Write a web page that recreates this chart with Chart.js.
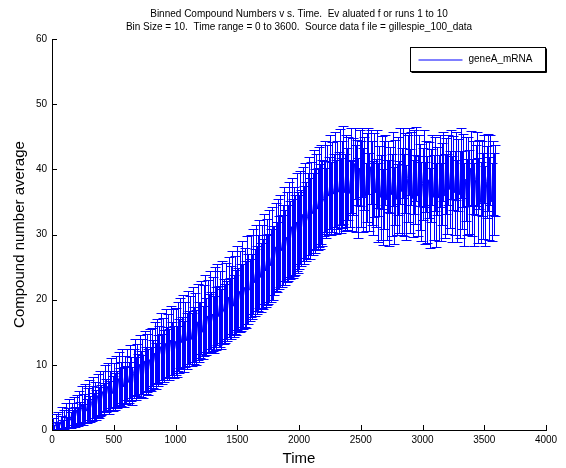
<!DOCTYPE html>
<html>
<head>
<meta charset="utf-8">
<script src="https://cdn.jsdelivr.net/npm/chart.js@4/dist/chart.umd.min.js"></script>
<style>
  html, body { margin: 0; padding: 0; background: #fff; }
  #wrap { width: 566px; height: 468px; }
</style>
</head>
<body>
<div id="wrap"><canvas id="binChart"></canvas></div>
<script>
// binned averages of geneA_mRNA, one value per 10 s bin
const binSize = 10;
const seriesName = "geneA_mRNA";
const titleLines = [
  "Binned Compound Numbers v s. Time.  Ev aluated f or runs 1 to 10",
  "Bin Size = 10.  Time range = 0 to 3600.  Source data f ile = gillespie_100_data"
];
const xTicks = [0, 500, 1000, 1500, 2000, 2500, 3000, 3500, 4000];
const yTicks = [0, 10, 20, 30, 40, 50, 60];

const meanValues = [
  0.3, 0.9, 0.2, 1.2, 0.6, 1.4, 0.5, 1.1, 1.9, 0.8, 1.6, 2.2, 1.0, 1.8, 2.6, 1.5, 2.3, 1.7, 2.9, 2.0,
  3.1, 2.0, 3.5, 2.6, 3.9, 2.4, 3.3, 4.2, 2.9, 3.8, 4.6, 3.2, 4.1, 5.0, 3.6, 4.4, 3.8, 5.3, 4.2, 5.6,
  4.6, 5.9, 4.8, 6.4, 5.3, 6.7, 5.0, 6.1, 7.2, 5.6, 6.8, 5.9, 7.5, 6.2, 7.9, 6.5, 7.1, 8.3, 6.6, 7.7,
  6.9, 8.5, 7.3, 9.0, 7.8, 6.8, 8.7, 9.6, 7.9, 9.2, 8.3, 10.1, 8.6, 9.7, 8.2, 10.6, 9.1, 10.3, 8.9, 10.8,
  9.4, 11.2, 10.1, 11.8, 9.8, 12.1, 10.7, 11.5, 12.8, 10.9, 12.4, 11.3, 13.3, 11.7, 12.9, 11.6, 13.8, 12.3, 13.5, 12.0,
  13.6, 12.1, 14.3, 12.9, 14.9, 13.4, 15.2, 12.8, 14.6, 13.7, 15.8, 14.0, 15.4, 13.9, 16.2, 14.5, 15.7, 14.2, 16.6, 15.1,
  15.4, 17.2, 15.0, 16.8, 17.9, 15.9, 17.5, 16.3, 18.4, 16.6, 17.8, 16.2, 18.9, 17.1, 19.3, 17.4, 18.6, 17.0, 19.6, 18.2,
  17.9, 19.8, 18.3, 20.4, 18.7, 19.5, 21.1, 19.0, 20.7, 19.6, 21.8, 19.9, 21.3, 20.3, 22.4, 20.5, 21.9, 20.8, 23.0, 21.6,
  21.5, 23.6, 22.0, 24.3, 22.6, 24.8, 23.0, 24.1, 25.5, 23.4, 25.1, 23.9, 26.2, 24.4, 25.8, 24.7, 26.7, 25.2, 27.1, 25.6,
  26.0, 28.1, 26.5, 28.6, 27.2, 29.0, 27.5, 28.4, 30.1, 28.0, 29.6, 28.7, 30.8, 29.1, 31.2, 29.4, 30.5, 29.9, 31.9, 30.3,
  30.4, 32.6, 31.0, 33.1, 31.5, 33.7, 32.0, 32.8, 34.4, 32.5, 34.0, 33.2, 35.3, 33.6, 35.0, 33.9, 35.8, 34.3, 36.2, 34.9,
  35.5, 37.4, 34.8, 36.9, 35.9, 38.0, 35.6, 37.3, 36.2, 38.5, 35.8, 37.6, 36.5, 38.8, 36.0, 37.7, 39.1, 36.4, 38.2, 37.0,
  38.6, 36.3, 39.8, 35.9, 38.9, 40.9, 37.1, 39.5, 35.6, 40.2, 37.7, 41.1, 36.8, 39.4, 35.8, 38.7, 41.3, 36.5, 40.4, 37.9,
  35.6, 39.1, 36.4, 40.0, 34.9, 38.2, 35.7, 39.5, 34.2, 37.6, 39.9, 35.3, 38.9, 34.8, 38.4, 36.1, 40.1, 34.5, 38.0, 35.4,
  39.0, 35.8, 40.5, 36.6, 41.0, 36.0, 39.4, 34.9, 38.6, 41.2, 36.7, 40.2, 35.5, 39.6, 36.9, 40.8, 35.9, 39.8, 37.3, 35.1,
  37.8, 40.1, 34.8, 38.9, 35.4, 38.4, 34.1, 37.5, 39.9, 35.7, 39.3, 34.5, 38.2, 35.6, 39.7, 35.0, 37.7, 40.4, 35.9, 39.0,
  36.2, 39.9, 36.9, 40.8, 35.4, 39.4, 36.4, 40.5, 35.1, 39.1, 36.1, 41.0, 36.8, 39.8, 34.6, 38.5, 35.8, 39.7, 36.5, 40.2,
  35.7, 38.8, 34.6, 38.4, 40.0, 35.2, 39.2, 34.9, 38.6, 35.9, 40.1, 34.4, 38.1, 39.5, 35.5, 39.9, 35.0, 38.7, 36.2, 38.3
];

// half-height of each error bar
const errValues = [
  0.4, 0.9, 0.5, 1.2, 0.7, 1.3, 0.6, 1.0, 1.6, 0.8, 1.4, 1.9, 1.0, 1.5, 2.1, 1.2, 1.8, 1.3, 2.2, 1.5,
  2.3, 1.4, 2.5, 1.7, 2.8, 1.6, 2.2, 2.9, 1.8, 2.6, 3.1, 2.0, 2.7, 3.2, 2.1, 2.9, 2.3, 3.3, 2.4, 3.4,
  2.3, 3.2, 2.4, 3.5, 2.6, 3.6, 2.5, 3.0, 3.8, 2.7, 3.5, 2.8, 3.9, 2.9, 4.0, 3.0, 3.4, 4.1, 3.0, 3.7,
  2.9, 3.9, 3.1, 4.1, 3.4, 2.9, 3.8, 4.3, 3.3, 4.0, 3.4, 4.5, 3.5, 4.2, 3.3, 4.6, 3.6, 4.4, 3.5, 4.7,
  3.4, 4.5, 3.7, 4.8, 3.5, 4.9, 3.9, 4.4, 5.1, 3.8, 4.8, 4.0, 5.2, 4.1, 4.9, 3.9, 5.3, 4.2, 5.0, 4.0,
  5.1, 3.9, 5.3, 4.2, 5.4, 4.0, 5.5, 3.9, 5.0, 4.3, 5.6, 4.2, 5.2, 4.1, 5.7, 4.4, 5.3, 4.2, 5.8, 4.6,
  4.3, 5.6, 4.1, 5.4, 5.9, 4.4, 5.5, 4.5, 6.0, 4.6, 5.7, 4.4, 6.1, 4.8, 6.2, 4.7, 5.8, 4.6, 6.3, 5.0,
  4.5, 5.9, 4.6, 6.1, 4.7, 5.6, 6.4, 4.8, 6.0, 5.0, 6.5, 4.9, 6.2, 5.1, 6.6, 5.0, 6.1, 5.2, 6.7, 5.4,
  4.8, 6.3, 5.0, 6.5, 5.1, 6.6, 5.2, 5.9, 6.8, 5.3, 6.4, 5.4, 6.9, 5.5, 6.6, 5.4, 7.0, 5.6, 7.1, 5.7,
  5.3, 6.8, 5.4, 6.9, 5.6, 7.0, 5.5, 6.2, 7.2, 5.8, 6.9, 5.9, 7.3, 6.0, 7.4, 6.0, 6.8, 6.1, 7.5, 6.2,
  5.7, 7.1, 5.9, 7.2, 6.0, 7.3, 6.1, 6.6, 7.5, 6.2, 7.1, 6.3, 7.6, 6.4, 7.4, 6.3, 7.7, 6.5, 7.6, 6.6,
  5.8, 7.0, 5.4, 6.8, 6.0, 7.2, 5.6, 6.9, 6.1, 7.3, 5.7, 6.8, 6.2, 7.4, 5.8, 6.7, 7.5, 5.9, 7.0, 6.3,
  6.3, 5.1, 6.5, 5.4, 5.9, 5.5, 6.7, 5.0, 6.1, 5.8, 6.6, 5.3, 6.4, 5.6, 5.2, 6.8, 5.1, 6.0, 5.7, 6.5,
  5.7, 6.4, 5.2, 6.0, 6.1, 5.4, 6.5, 5.6, 5.8, 6.7, 5.3, 6.2, 5.5, 6.6, 5.1, 6.3, 5.7, 5.9, 6.5, 5.4,
  6.0, 5.5, 5.8, 6.6, 5.4, 6.3, 6.1, 5.7, 6.7, 5.2, 6.4, 5.6, 5.9, 6.5, 5.3, 5.7, 6.2, 5.4, 6.6, 6.1,
  5.5, 5.9, 6.3, 5.4, 6.7, 5.8, 6.1, 5.6, 5.3, 6.5, 5.7, 6.4, 5.2, 6.6, 5.5, 6.0, 6.3, 5.3, 6.5, 5.8,
  6.2, 5.4, 5.9, 5.3, 6.6, 5.7, 6.4, 5.2, 6.3, 5.5, 6.7, 5.4, 6.0, 5.6, 6.3, 6.5, 5.8, 5.3, 6.4, 5.7,
  5.9, 5.6, 6.4, 5.4, 5.7, 6.5, 5.3, 6.2, 5.8, 6.6, 5.2, 6.1, 5.5, 5.9, 6.4, 5.4, 6.0, 5.7, 6.3, 5.5
];

// bin start times
const times = meanValues.map((_, i) => i * binSize);

const BLUE = "#0000ff";
Chart.defaults.font.family = "'Liberation Sans', Arial, sans-serif";
Chart.defaults.color = "#000";

const crisp = v => Math.round(v) + 0.5;

// vertical bars with tees, drawn under the mean line
const errorBars = {
  id: "errorBars",
  beforeDatasetsDraw(chart) {
    const { ctx, chartArea: a, scales: { x, y } } = chart;
    const half = 5;
    ctx.save();
    ctx.beginPath();
    ctx.rect(a.left, a.top, a.right - a.left, a.bottom - a.top);
    ctx.clip();
    ctx.strokeStyle = BLUE;
    ctx.lineWidth = 1;
    ctx.beginPath();
    times.forEach((t, i) => {
      const px = crisp(x.getPixelForValue(t));
      const hi = crisp(y.getPixelForValue(meanValues[i] + errValues[i]));
      const lo = crisp(y.getPixelForValue(meanValues[i] - errValues[i]));
      ctx.moveTo(px, hi); ctx.lineTo(px, lo);
      ctx.moveTo(px - half, hi); ctx.lineTo(px + half, hi);
      ctx.moveTo(px - half, lo); ctx.lineTo(px + half, lo);
    });
    ctx.stroke();
    ctx.restore();
  }
};

// inward tick marks on both axes
const innerTicks = {
  id: "innerTicks",
  afterDraw(chart) {
    const { ctx, chartArea: a, scales: { x, y } } = chart;
    ctx.save();
    ctx.strokeStyle = "#000";
    ctx.lineWidth = 1;
    ctx.beginPath();
    xTicks.forEach(v => {
      const px = crisp(x.getPixelForValue(v));
      ctx.moveTo(px, a.bottom); ctx.lineTo(px, a.bottom - 5);
    });
    yTicks.forEach(v => {
      const py = crisp(y.getPixelForValue(v));
      ctx.moveTo(a.left, py); ctx.lineTo(a.left + 5, py);
    });
    ctx.stroke();
    ctx.restore();
  }
};

// boxed legend in the upper right
const boxLegend = {
  id: "boxLegend",
  afterDraw(chart) {
    const { ctx } = chart;
    const bx = 410.5, by = 47.5, bw = 135, bh = 24;
    ctx.save();
    ctx.fillStyle = "#fff";
    ctx.fillRect(bx, by, bw, bh);
    ctx.strokeStyle = "#000";
    ctx.lineWidth = 1;
    ctx.strokeRect(bx, by, bw, bh);
    ctx.fillStyle = "#000";
    ctx.fillRect(bx + bw, by + 1, 1.5, bh);
    ctx.fillRect(bx + 1, by + bh, bw, 1.5);
    ctx.strokeStyle = BLUE;
    ctx.lineWidth = 1;
    ctx.beginPath();
    ctx.moveTo(bx + 8, by + 12.5); ctx.lineTo(bx + 52, by + 12.5);
    ctx.stroke();
    ctx.fillStyle = "#000";
    ctx.font = "10px 'Liberation Sans', Arial, sans-serif";
    ctx.textBaseline = "middle";
    ctx.fillText(seriesName, bx + 58, by + 12);
    ctx.restore();
  }
};

new Chart(document.getElementById("binChart"), {
  type: "line",
  data: {
    datasets: [{
      label: seriesName,
      data: times.map((t, i) => ({ x: t, y: meanValues[i] })),
      borderColor: BLUE,
      borderWidth: 1,
      pointRadius: 0,
      fill: false,
      tension: 0
    }]
  },
  options: {
    responsive: true,
    maintainAspectRatio: false,
    animation: false,
    layout: { padding: { top: 0, right: 20, bottom: 0, left: 0 } },
    plugins: {
      legend: { display: false },
      tooltip: { enabled: false },
      title: {
        display: true,
        text: titleLines,
        fullSize: false,
        color: "#000",
        font: { size: 10, weight: "normal", lineHeight: 1.35 },
        padding: { top: 7, bottom: 5 }
      }
    },
    scales: {
      x: {
        type: "linear",
        min: 0,
        max: 4000,
        afterBuildTicks: s => { s.ticks = xTicks.map(v => ({ value: v })); },
        afterFit: s => { s.height = 38; },
        grid: { drawOnChartArea: false, drawTicks: false },
        border: { color: "#000", width: 1 },
        ticks: { font: { size: 10 }, padding: 4, maxRotation: 0, color: "#000", callback: v => String(v) },
        title: { display: true, text: "Time", font: { size: 15 }, padding: { top: 0, bottom: 0 }, color: "#000" }
      },
      y: {
        min: 0,
        max: 60,
        afterBuildTicks: s => { s.ticks = yTicks.map(v => ({ value: v })); },
        afterFit: s => { s.width = 52; },
        grid: { drawOnChartArea: false, drawTicks: false },
        border: { color: "#000", width: 1 },
        ticks: { font: { size: 10 }, padding: 5, color: "#000", callback: v => String(v) },
        title: { display: true, text: "Compound number average", font: { size: 15 }, padding: { top: 11, bottom: 0 }, color: "#000" }
      }
    }
  },
  plugins: [errorBars, innerTicks, boxLegend]
});
</script>
</body>
</html>
